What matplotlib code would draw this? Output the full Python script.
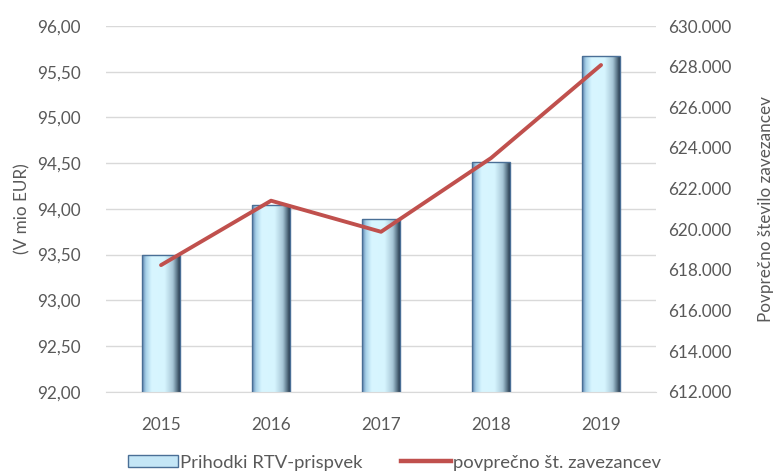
import matplotlib
matplotlib.use('Agg')
import matplotlib.pyplot as plt
import numpy as np
from matplotlib.colors import LinearSegmentedColormap
from matplotlib.patches import Patch
from matplotlib.lines import Line2D
from matplotlib.ticker import FuncFormatter

years = ['2015', '2016', '2017', '2018', '2019']
prihodki = [93.50, 94.04, 93.89, 94.51, 95.67]
zavezanci = [618230, 621400, 619870, 623500, 628080]

bar_label = 'Prihodki RTV-prispvek'
line_label = 'povprečno št. zavezancev'
left_title = '(V mio EUR)'
right_title = 'Povprečno število zavezancev'

text_col = '#595959'
grid_col = '#d9d9d9'
line_col = '#c0504d'
fs = 12.3

plt.rcParams['font.family'] = ['Lato', 'DejaVu Sans']
plt.rcParams['font.size'] = fs

fig = plt.figure(figsize=(7.74, 4.73), dpi=100)
ax = fig.add_axes([0.137, 0.172, 0.7106, 0.773])
ax2 = ax.twinx()

x = np.arange(len(years))
bars = ax.bar(x, prihodki, width=0.34, bottom=0, color='none',
              edgecolor='#4a6f96', linewidth=1.0, zorder=3)

# bevel-like horizontal gradient inside each bar
grad = LinearSegmentedColormap.from_list('bevel', [
    (0.0, '#5f86b0'), (0.10, '#a9d3ea'), (0.25, '#d8f6ff'),
    (0.60, '#d6f5fe'), (0.82, '#a6c6d6'), (0.93, '#5c7688'),
    (1.0, '#2c3e50')])
g = np.linspace(0, 1, 64).reshape(1, -1)
for p in bars:
    x0, w, h = p.get_x(), p.get_width(), p.get_height()
    im = ax.imshow(g, cmap=grad, aspect='auto', zorder=2,
                   extent=[x0, x0 + w, 92.0, h], interpolation='bicubic')
    im.set_clip_path(p)

ax.set_xlim(-0.5, len(years) - 0.5)
ax.set_ylim(92, 96)
ax.set_yticks(np.arange(92, 96.01, 0.5))
ax.yaxis.set_major_formatter(FuncFormatter(lambda v, _: f'{v:.2f}'.replace('.', ',')))
ax.set_xticks(x)
ax.set_xticklabels(years)
ax.grid(axis='y', color=grid_col, linewidth=1.0, zorder=0)
ax.set_axisbelow(True)

ax2.plot(x, zavezanci, color=line_col, linewidth=2.8, solid_capstyle='round', zorder=5)
ax2.set_ylim(612000, 630000)
ax2.set_yticks(np.arange(612000, 630001, 2000))
ax2.yaxis.set_major_formatter(FuncFormatter(lambda v, _: f'{int(v):,}'.replace(',', '.')))

for a in (ax, ax2):
    for s in a.spines.values():
        s.set_visible(False)
    a.tick_params(length=0, colors=text_col, labelsize=fs)
ax.spines['bottom'].set_visible(True)
ax.spines['bottom'].set_color(grid_col)
ax.tick_params(axis='y', pad=18)
ax.tick_params(axis='x', pad=18)
ax2.tick_params(axis='y', pad=9)

ax.set_ylabel(left_title, color=text_col, fontsize=fs, labelpad=5)
ax2.set_ylabel(right_title, color=text_col, fontsize=fs, labelpad=19)

handles = [Patch(facecolor='#c4e6f6', edgecolor='#4a6f96', linewidth=1.0),
           Line2D([0], [0], color=line_col, linewidth=3.2)]
fig.legend(handles, [bar_label, line_label], loc='center', ncol=2,
           bbox_to_anchor=(0.51, 0.022), frameon=False, handlelength=2.7,
           handleheight=0.6, handletextpad=0.1, columnspacing=2.1,
           labelcolor=text_col, fontsize=13.3)

fig.savefig('out.png', dpi=100)
